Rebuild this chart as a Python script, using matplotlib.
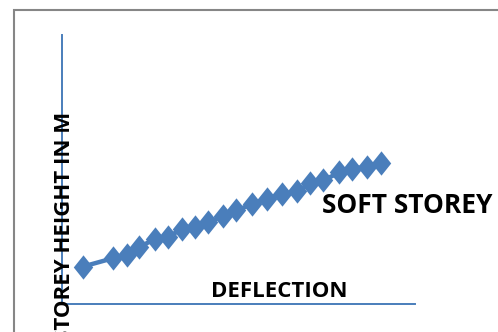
import matplotlib
matplotlib.use("Agg")
import matplotlib.pyplot as plt
from matplotlib.patches import Rectangle

# ------------------------------------------------------------------------------
#  Soft storey: deflection vs storey height
# ------------------------------------------------------------------------------
deflection = [2.05, 5.08, 6.4, 7.6, 9.2, 10.5, 11.9, 13.2, 14.5, 16.0, 17.3,
              18.8, 20.3, 21.8, 23.3, 24.6, 25.9, 27.5, 28.8, 30.2, 31.6]
height = [3.75, 4.6, 4.9, 5.7, 6.5, 6.75, 7.5, 7.75, 8.25, 8.8, 9.4,
          10.0, 10.5, 11.0, 11.3, 12.1, 12.4, 13.2, 13.55, 13.8, 14.2]

BLUE = "#4A7EBB"
W, H = 498, 332
FONT = "Open Sans"

# diamond a bit narrower than tall
DIAMOND = [(-0.8, 0), (0, 1), (0.8, 0), (0, -1), (-0.8, 0)]

fig = plt.figure(figsize=(W / 100, H / 100), dpi=100)

# outer chart frame (cropped at right/bottom)
fig.add_artist(Rectangle((13.5 / W, -0.1), 1.2, (H - 10) / H + 0.1,
                         transform=fig.transFigure, fill=False,
                         edgecolor="#868686", linewidth=1.5))

ax = fig.add_axes([62 / W, (H - 304) / H, (415 - 62) / W, (304 - 35) / H])
ax.plot(deflection, height, "-", color=BLUE, marker=DIAMOND, markersize=17.5,
        linewidth=3.2, markeredgewidth=0)
ax.set_xlim(0, 35)
ax.set_ylim(0, 27)
ax.set_xticks([])
ax.set_yticks([])
for side in ["top", "right"]:
    ax.spines[side].set_visible(False)
for side in ["left", "bottom"]:
    ax.spines[side].set_color(BLUE)
    ax.spines[side].set_linewidth(1.4)

# y label runs off the bottom edge, as in the original
fig.text(64 / W, (H - 112) / H, "STOREY HEIGHT IN M", rotation=90,
         ha="center", va="top", fontsize=16, family=FONT, weight="bold")
fig.text(279.5 / W, (H - 297) / H, "DEFLECTION", ha="center", va="baseline",
         fontsize=16, family=FONT, weight="bold")
fig.text(322 / W, (H - 213) / H, "SOFT STOREY", ha="left", va="baseline",
         fontsize=19, family=FONT, weight="bold")

fig.savefig("out.png", dpi=100)
